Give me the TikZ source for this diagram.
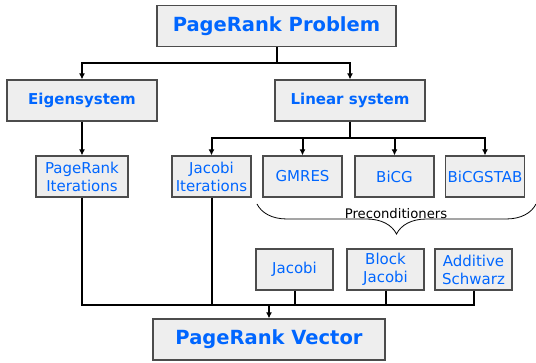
\documentclass[tikz,border=0pt]{standalone}
\usepackage{fontspec}
\setmainfont{DejaVu Sans}
\usetikzlibrary{arrows.meta,decorations.pathreplacing}
\definecolor{prblue}{RGB}{0,102,255}
\definecolor{boxgray}{RGB}{238,238,238}

\begin{document}
\begin{tikzpicture}[x=1pt, y=-1pt, line width=2pt,
  box/.style={draw=black!70, line width=1.2pt, fill=boxgray, text=prblue, inner sep=0pt, align=center, minimum height=41},
  mainbox/.style={box, font=\bfseries\fontsize{19.5}{22}\selectfont},
  headbox/.style={box, minimum width=150, font=\bfseries\fontsize{15}{18}\selectfont},
  subbox/.style={box, minimum width=79, font=\fontsize{15}{18}\selectfont},
  arr/.style={-{Latex[length=6pt,width=6pt]}}]
  \useasboundingbox (0,0) rectangle (536,363);
  % levels of the tree
  \node[mainbox, minimum width=239] (prob) at (276.5,26) {PageRank Problem};
  \node[headbox] (eig) at (82,100.5) {Eigensystem};
  \node[headbox] (lin) at (350,100.5) {Linear system};
  \node[subbox, minimum width=92] (pri) at (82,176.5) {PageRank\\Iterations};
  \node[subbox] (jit) at (211.5,176.5) {Jacobi\\Iterations};
  \node[subbox] (gmres) at (302.5,176.5) {GMRES};
  \node[subbox] (bicg) at (394.5,176.5) {BiCG};
  \node[subbox] (bicgstab) at (485,176.5) {BiCGSTAB};
  \node[anchor=base, font=\fontsize{13.2}{15}\selectfont] (precond) at (396,219) {Preconditioners};
  \node[subbox, minimum width=77] (pjac) at (294.5,269.5) {Jacobi};
  \node[subbox, minimum width=77] (pbjac) at (385.5,269.5) {Block\\Jacobi};
  \node[subbox, minimum width=77] (pas) at (473.5,269.5) {Additive\\Schwarz};
  \node[mainbox, minimum width=232] (vec) at (269,339.5) {PageRank Vector};
  % connectors
  \coordinate (top) at (276.5,63);
  \coordinate (lsplit) at (350,138);
  \coordinate (join) at (269,305);
  \draw (prob.south) -- (top);
  \draw[arr] (top) -| (eig.north);
  \draw[arr] (top) -| (lin.north);
  \draw[arr] (eig.south) -- (pri.north);
  \draw (lin.south) -- (lsplit);
  \foreach \n in {jit,gmres,bicg,bicgstab}
    \draw[arr] (lsplit) -| (\n.north);
  \foreach \n in {pri,jit,pjac,pbjac,pas}
    \draw (\n.south) |- (join);
  \draw[arr] (join) -- (vec.north);
  % brace over the solvers
  \draw[line width=0.8pt, decorate, decoration={brace, amplitude=30}] (536,204) -- (257,204);
\end{tikzpicture}
\end{document}
